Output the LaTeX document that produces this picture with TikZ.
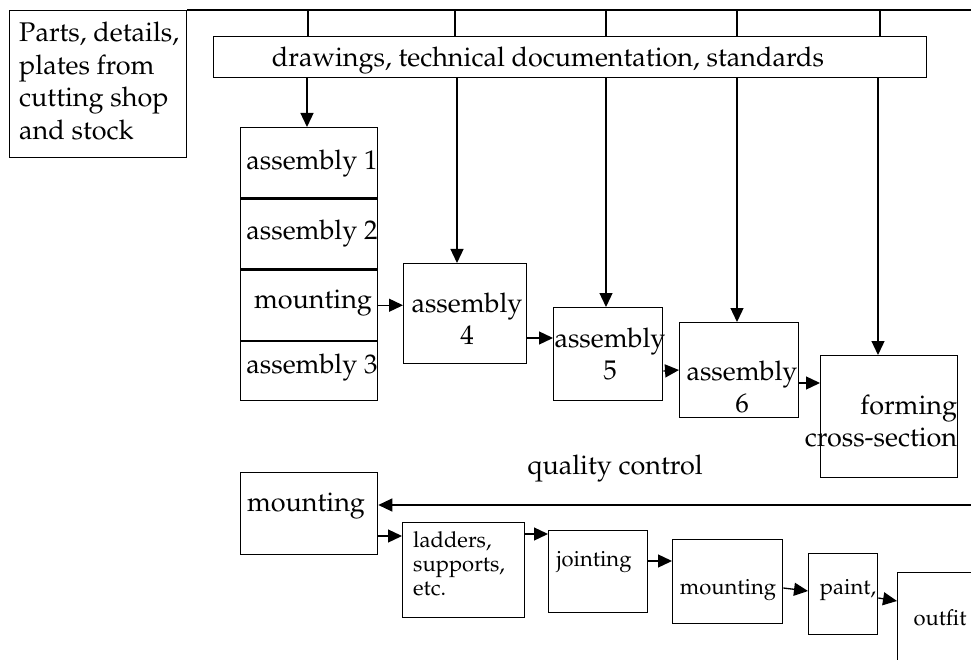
\documentclass[tikz,border=0pt]{standalone}
\usepackage[T1]{fontenc}
\usepackage{mathpazo}
\usetikzlibrary{arrows.meta}
\newcommand\bigtxt{\fontsize{27}{32.5}\selectfont}
\newcommand\smltxt{\fontsize{22}{24}\selectfont}
\tikzset{
  box/.style={draw, line width=1.3pt, inner sep=0pt, anchor=north west},
  lbl/.style={inner sep=0pt, font=\bigtxt},
  slbl/.style={inner sep=0pt, font=\smltxt},
  rule/.style={line width=1.3pt},
  arr/.style={line width=1.3pt, -{Triangle[length=14pt,width=13pt]}}
}
\begin{document}
\begin{tikzpicture}[x=1pt,y=-1pt]
\useasboundingbox (0,0) rectangle (971,660);
\clip (0,0) rectangle (971,660);

% source box and the header rule running off to the right
\node[box, minimum width=177pt, minimum height=147pt] (parts) at (9,10) {};
\node[lbl, align=left, anchor=west] (partsT) at (19,81)
  {Parts, details,\\plates from\\cutting shop\\and stock};
\coordinate (topR) at (971,10);
\draw[rule] (parts.north east) -- (topR);

% documentation bar
\node[box, minimum width=713pt, minimum height=41pt] (dwg) at (213,36) {};
\node[lbl] (dwgT) at (548,61) {drawings, technical documentation, standards};
\foreach \x in {308,455,606,737,880}
  \draw[rule] (\x,0 |- topR) -- (\x,0 |- dwg.north);

% stacked block of first assemblies
\node[box, minimum width=137pt, minimum height=70pt] (a1) at (240,127) {};
\node[box, minimum width=137pt, minimum height=70pt] (a2) at (a1.south west) {};
\node[box, minimum width=137pt, minimum height=70pt] (m1) at (a2.south west) {};
\node[box, minimum width=137pt, minimum height=59pt] (a3) at (m1.south west) {};
\node[lbl] (a1T) at (312,164) {assembly 1};
\node[lbl] (a2T) at (312,234) {assembly 2};
\node[lbl] (m1T) at (313,303) {mounting};
\node[lbl] (a3T) at (312,368) {assembly 3};

% staircase of assemblies
\node[box, minimum width=123pt, minimum height=100pt] (a4) at (403,263) {};
\node[lbl, align=center] (a4T) at (467,319) {assembly\\4};
\node[box, minimum width=109pt, minimum height=93pt] (a5) at (553,307) {};
\node[lbl, align=center] (a5T) at (610,354) {assembly\\5};
\node[box, minimum width=119pt, minimum height=95pt] (a6) at (679,322) {};
\node[lbl, align=center] (a6T) at (742,387) {assembly\\6};
\node[box, minimum width=137pt, minimum height=122pt] (form) at (820,355) {};
\node[lbl, align=right] (formT) at (881,421) {forming\\cross-section};

% documentation feeds
\draw[arr] (307,0 |- dwg.south) -- (307,0 |- a1.north);
\draw[arr] (457,0 |- dwg.south) -- (457,0 |- a4.north);
\draw[arr] (606,0 |- dwg.south) -- (606,0 |- a5.north);
\draw[arr] (737,0 |- dwg.south) -- (737,0 |- a6.north);
\draw[arr] (878,0 |- dwg.south) -- (878,0 |- form.north);

% flow between assemblies
\draw[arr] (m1.east) -- (m1.east -| a4.west);
\draw[arr] (a4.east |- 0,338) -- (a5.west |- 0,338);
\draw[arr] (a5.east |- 0,371) -- (a6.west |- 0,370);
\draw[arr] (a6.east |- 0,383) -- (form.west |- 0,383);

\node[lbl] (qc) at (615,469) {quality control};

% outfitting line
\node[box, minimum width=137pt, minimum height=82pt] (m2) at (240,472) {};
\node[lbl] (m2T) at (306,506) {mounting};
\coordinate (fbR) at (971,505);
\draw[arr] (fbR) -- (fbR -| m2.east);

\node[box, minimum width=122pt, minimum height=95pt] (lad) at (402,522) {};
\node[slbl, align=left, anchor=north west] (ladT) at (413,531) {ladders,\\supports,\\etc.};
\node[box, minimum width=99pt, minimum height=82pt] (jnt) at (548,530) {};
\node[slbl] (jntT) at (594,562) {jointing};
\node[box, minimum width=110pt, minimum height=84pt] (m3) at (672,539) {};
\node[slbl] (m3T) at (728,590) {mounting};
\node[box, minimum width=69pt, minimum height=81pt] (pnt) at (808,553) {};
\node[slbl] (pntT) at (848,590) {paint,};
\node[box, minimum width=120pt, minimum height=120pt] (out) at (897,572) {};
\node[slbl] (outT) at (940,618) {outfit};

\draw[arr] (m2.east |- 0,536) -- (lad.west |- 0,536);
\draw[arr] (lad.east |- 0,534) -- (jnt.west |- 0,534);
\draw[arr] (jnt.east |- 0,561) -- (m3.west |- 0,561);
\draw[arr] (m3.east |- 0,588) -- (pnt.west |- 0,591);
\draw[arr] (pnt.east |- 0,598) -- (out.west |- 0,601);
\end{tikzpicture}
\end{document}
